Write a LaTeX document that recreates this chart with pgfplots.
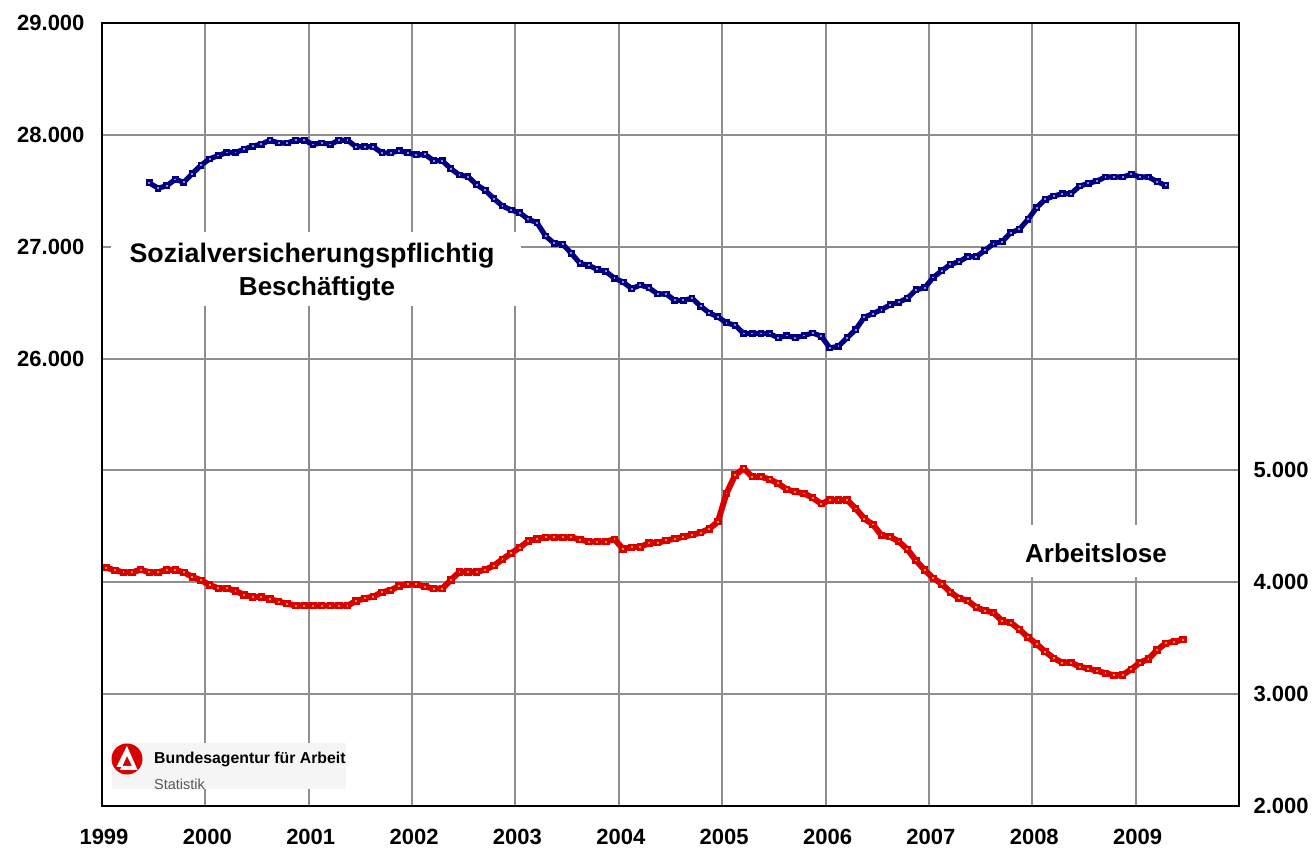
\documentclass[border=0pt]{standalone}
\usepackage{pgfplots}
\usepackage{pgfplotstable}
\usepackage{fontspec}
\setmainfont{Liberation Sans}
\pgfplotsset{compat=1.18}
\definecolor{gridc}{HTML}{8F8F8F}
\definecolor{bluec}{HTML}{000080}
\definecolor{bluedot}{HTML}{8C8CC8}
\definecolor{redc}{HTML}{D90000}
\definecolor{reddot}{HTML}{FF9A00}
\pgfplotstableread{
x y
5.5 27571
6.5 27523
7.5 27544
8.5 27601
9.5 27577
10.5 27654
11.5 27729
12.5 27785
13.5 27815
14.5 27842
15.5 27842
16.5 27872
17.5 27899
18.5 27917
19.5 27952
20.5 27928
21.5 27928
22.5 27952
23.5 27952
24.5 27914
25.5 27928
26.5 27914
27.5 27952
28.5 27952
29.5 27893
30.5 27893
31.5 27893
32.5 27839
33.5 27839
34.5 27857
35.5 27839
36.5 27821
37.5 27825
38.5 27769
39.5 27769
40.5 27697
41.5 27641
42.5 27626
43.5 27554
44.5 27504
45.5 27429
46.5 27364
47.5 27328
48.5 27304
49.5 27244
50.5 27215
51.5 27095
52.5 27030
53.5 27021
54.5 26940
55.5 26851
56.5 26833
57.5 26797
58.5 26779
59.5 26717
60.5 26684
61.5 26625
62.5 26657
63.5 26633
64.5 26577
65.5 26577
66.5 26520
67.5 26520
68.5 26539
69.5 26468
70.5 26408
71.5 26373
72.5 26319
73.5 26298
74.5 26224
75.5 26224
76.5 26224
77.5 26224
78.5 26185
79.5 26206
80.5 26185
81.5 26206
82.5 26229
83.5 26200
84.5 26095
85.5 26110
86.5 26185
87.5 26259
88.5 26370
89.5 26402
90.5 26438
91.5 26480
92.5 26504
93.5 26539
94.5 26615
95.5 26632
96.5 26725
97.5 26785
98.5 26842
99.5 26866
100.5 26911
101.5 26911
102.5 26967
103.5 27027
104.5 27045
105.5 27125
106.5 27155
107.5 27244
108.5 27349
109.5 27423
110.5 27453
111.5 27474
112.5 27474
113.5 27542
114.5 27566
115.5 27587
116.5 27623
117.5 27623
118.5 27623
119.5 27647
120.5 27623
121.5 27623
122.5 27581
123.5 27548
}\emp
\pgfplotstableread{
x y
0.5 4131
1.5 4107
2.5 4089
3.5 4089
4.5 4113
5.5 4089
6.5 4089
7.5 4110
8.5 4110
9.5 4089
10.5 4048
11.5 4018
12.5 3976
13.5 3946
14.5 3946
15.5 3923
16.5 3887
17.5 3869
18.5 3869
19.5 3851
20.5 3827
21.5 3809
22.5 3791
23.5 3791
24.5 3791
25.5 3791
26.5 3791
27.5 3791
28.5 3791
29.5 3833
30.5 3857
31.5 3872
32.5 3911
33.5 3928
34.5 3967
35.5 3982
36.5 3982
37.5 3961
38.5 3943
39.5 3943
40.5 4021
41.5 4092
42.5 4092
43.5 4092
44.5 4113
45.5 4149
46.5 4206
47.5 4259
48.5 4310
49.5 4370
50.5 4387
51.5 4402
52.5 4402
53.5 4402
54.5 4402
55.5 4381
56.5 4364
57.5 4364
58.5 4364
59.5 4384
60.5 4298
61.5 4313
62.5 4316
63.5 4350
64.5 4353
65.5 4374
66.5 4389
67.5 4407
68.5 4425
69.5 4443
70.5 4478
71.5 4541
72.5 4794
73.5 4958
74.5 5018
75.5 4943
76.5 4943
77.5 4920
78.5 4884
79.5 4830
80.5 4809
81.5 4794
82.5 4756
83.5 4702
84.5 4735
85.5 4735
86.5 4735
87.5 4660
88.5 4568
89.5 4517
90.5 4419
91.5 4407
92.5 4365
93.5 4294
94.5 4195
95.5 4110
96.5 4036
97.5 3985
98.5 3911
99.5 3857
100.5 3836
101.5 3776
102.5 3747
103.5 3729
104.5 3654
105.5 3639
106.5 3580
107.5 3508
108.5 3449
109.5 3380
110.5 3321
111.5 3282
112.5 3282
113.5 3246
114.5 3228
115.5 3210
116.5 3186
117.5 3169
118.5 3172
119.5 3222
120.5 3282
121.5 3315
122.5 3395
123.5 3455
124.5 3470
125.5 3487
}\alo
\begin{document}
\begin{tikzpicture}[x=1pt,y=1pt]
\useasboundingbox (0,0) rectangle (1314,850);
\begin{axis}[
  at={(102pt,44pt)}, anchor=south west,
  scale only axis, width=1137pt, height=783pt,
  xmin=0, xmax=132, ymin=22000, ymax=29000,
  xtick={0,12,...,132},
  xticklabels={1999,2000,2001,2002,2003,2004,2005,2006,2007,2008,2009,},
  ytick={22000,23000,...,29000},
  yticklabels={,,,,26.000,27.000,28.000,29.000},
  grid=major,
  major grid style={gridc,line width=2pt},
  major tick length=0pt,
  axis line style={black,line width=2.2pt},
  tick label style={font=\fontsize{22}{22}\selectfont\bfseries},
  xticklabel style={anchor=north,yshift=-20pt,xshift=2pt},
  yticklabel style={anchor=east,xshift=-14pt,yshift=0pt},
  clip=false,
]
\addplot[bluec,line width=5.2pt,line join=round,mark=square*,mark size=2.9pt,mark options={fill=bluec,draw=bluec,line width=0pt,solid}] table[x=x,y=y]{\emp};
\addplot[only marks,mark=square*,mark size=0.45pt,color=bluedot,mark options={fill=bluedot,draw=bluedot,line width=0pt}] table[x=x,y=y]{\emp};
\end{axis}
% white boxes behind the annotations
\fill[white] (111,850-306) rectangle (521,850-232);
\fill[white] (1010,850-577) rectangle (1180,850-525);
\node[font=\fontsize{26.8}{27}\selectfont\bfseries] at (312,850-256) {Sozialversicherungspflichtig};
\node[font=\fontsize{26}{26}\selectfont\bfseries] at (317,850-289) {Beschäftigte};
\node[font=\fontsize{26}{26}\selectfont\bfseries] at (1096,850-553) {Arbeitslose};
% logo block
\fill[black!4] (111.5,850-789.5) rectangle (346,850-743.5);
\fill[red!85!black] (127,850-759) circle (15.5);
\fill[white] (127,850-746) -- (116.5,850-767) -- (122,850-767) -- (127,850-756) -- (132,850-766) -- (122,850-766) -- (120,850-770) -- (137.5,850-770) -- cycle;
\node[anchor=west,inner sep=0pt,font=\fontsize{15.8}{16}\selectfont\bfseries] at (154,850-759.5) {Bundesagentur für Arbeit};
\node[anchor=west,inner sep=0pt,font=\fontsize{14.5}{15}\selectfont,black!65] at (154,850-784) {Statistik};
\begin{axis}[
  at={(102pt,44pt)}, anchor=south west,
  scale only axis, width=1137pt, height=783pt,
  xmin=0, xmax=132, ymin=2000, ymax=9000,
  axis x line=none,
  axis y line*=right,
  ytick={2000,3000,4000,5000},
  yticklabels={2.000,3.000,4.000,5.000},
  major tick length=0pt,
  axis line style={black,line width=2.2pt},
  tick label style={font=\fontsize{22}{22}\selectfont\bfseries},
  yticklabel style={anchor=west,xshift=11pt,yshift=0pt},
]
\addplot[redc,line width=6pt,line join=round,mark=square*,mark size=3.2pt,mark options={fill=redc,draw=redc,line width=0pt,solid}] table[x=x,y=y]{\alo};
\addplot[only marks,mark=square*,mark size=0.45pt,color=reddot,mark options={fill=reddot,draw=reddot,line width=0pt}] table[x=x,y=y]{\alo};
\end{axis}
\end{tikzpicture}
\end{document}
